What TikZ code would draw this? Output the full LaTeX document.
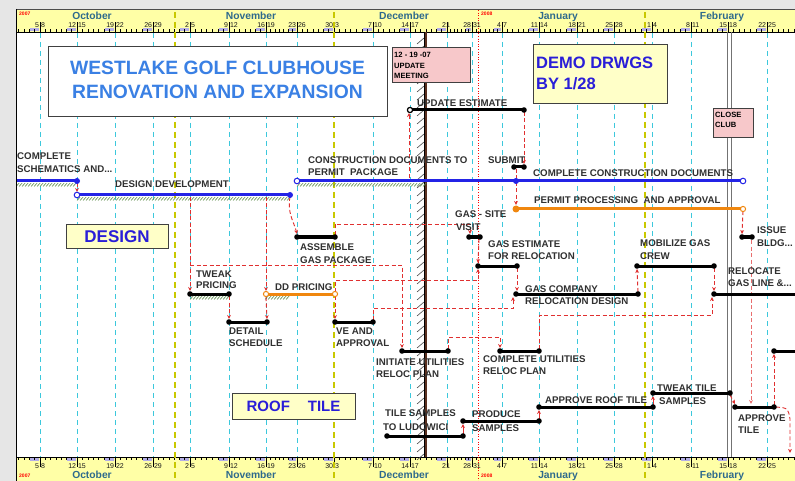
\documentclass[tikz,border=0pt]{standalone}
\usepackage{fontspec}
\setmainfont{Liberation Sans}
\usetikzlibrary{arrows.meta}
\definecolor{bggray}{HTML}{E6E6E6}
\definecolor{hdryellow}{HTML}{FFFFA6}
\definecolor{gridcyan}{HTML}{3CC8DC}
\definecolor{gridyellow}{HTML}{C8C800}
\definecolor{barblue}{HTML}{2323E6}
\definecolor{barorange}{HTML}{F0870F}
\definecolor{linkred}{HTML}{E03030}
\definecolor{hatchgreen}{HTML}{5E8C4A}
\definecolor{boxpink}{HTML}{F7C8CA}
\definecolor{boxyellow}{HTML}{FFFFC8}
\definecolor{titleblue}{HTML}{3A80E4}
\definecolor{demoblue}{HTML}{2A1ED8}
\definecolor{labelgray}{HTML}{303030}
\definecolor{monthblue}{HTML}{2E6A8C}
\definecolor{statusbrown}{HTML}{5A3020}
\definecolor{lav}{HTML}{B4AEE6}
\newcommand{\GHatch}[3]{\foreach \i in {0,...,#3} \draw[hatchgreen,line width=0.6pt] ({#1+3*\i},{#2+5.5}) -- ++(3.2,-3.5);}
\tikzset{
  bbar/.style={line width=3pt,black},
  bluebar/.style={line width=3pt,barblue},
  orbar/.style={line width=3pt,barorange},
  link/.style={draw=linkred,dash pattern=on 4pt off 2.5pt,line width=0.9pt,-{Stealth[length=4pt,width=3.8pt]}},
  slink/.style={draw=linkred,line width=0.9pt,-{Stealth[length=4pt,width=3.8pt]}},
  lbl/.style={font=\fontsize{9.7}{11}\selectfont\bfseries,text=labelgray,inner sep=0pt,anchor=base west},
  wk/.style={font=\fontsize{7}{8}\selectfont,text=black!90,inner sep=0pt},
  month/.style={font=\fontsize{10.3}{12}\selectfont\bfseries,text=monthblue,inner sep=0pt,anchor=base},
  yr/.style={font=\fontsize{5}{6}\selectfont\bfseries,text=red,inner sep=0pt,anchor=base west},
  boxtxt/.style={font=\fontsize{7.6}{8}\selectfont\bfseries,text=black,inner sep=0pt,anchor=base west},
  frame/.style={draw=black!75,line width=1pt},
  gridc/.style={gridcyan,line width=1pt,dash pattern=on 5pt off 4pt},
  gridy/.style={gridyellow,line width=2.2pt,dash pattern=on 6pt off 4pt},
}
\begin{document}
\begin{tikzpicture}[x=1pt,y=-1pt]
\useasboundingbox (0,0) rectangle (795,481);
\fill[bggray] (0,0) rectangle (795,481);
\fill[white] (16,9) rectangle (795,481);
\fill[hdryellow] (16,9) rectangle (795,32);
\fill[hdryellow] (16,457) rectangle (795,481);
\begin{scope}
\clip (16,9) rectangle (795,481);
% ticks
\foreach \a/\b in {2.5/40,40/77,77/115,115/153,153/190,190/229,229/266,266/297,297/334,334/373,373/410,410/447,447/472,472/502,502/539,539/577,577/614,614/652,652/691,691/728,728/767,767/805}{
  \fill[lav] ({\b-(\b-\a)*2/7+0.7},28.3) rectangle ({\b-0.7},31.4);
  \fill[lav] ({\b-(\b-\a)*2/7+0.7},457.6) rectangle ({\b-0.7},460.7);
  \foreach \i in {1,...,6}{
    \draw[black,line width=0.5pt] ({\a+(\b-\a)*\i/7},32) -- ++(0,-3);
    \draw[black,line width=0.5pt] ({\a+(\b-\a)*\i/7},457) -- ++(0,3);
  }
  \draw[black,line width=0.6pt] (\b,32) -- ++(0,-10);
  \draw[black,line width=0.6pt] (\b,457) -- ++(0,10);
}
\draw[black,line width=0.8pt] (16,32) -- (795,32);
\draw[black,line width=0.8pt] (16,457) -- (795,457);
\draw[black!70,line width=0.8pt] (16,9) -- (795,9);
% grid lines
\foreach \x in {40,77,115,153,190,229,266,297,373,410,447,472,502,539,577,614,652,691,767}
  \draw[gridc] (\x,33) -- (\x,457);
\foreach \x in {175,334,645}
  \draw[gridy] (\x,12) -- (\x,481);
\draw[red,line width=0.6pt,dotted] (478,10) -- (478,481);
% status line with hatching
\foreach \i in {0,...,52} \draw[black!70,line width=0.6pt] (417,{38+8*\i+6}) -- (424,{38+8*\i});
\draw[black,line width=1pt] (424,32) -- (424,457);
\draw[statusbrown,line width=1.3pt] (426,32) -- (426,457);
% close club line
\draw[black!55,line width=1pt] (727.5,32) -- (727.5,457);
\draw[black!55,line width=1pt] (731,32) -- (731,457);
% week numbers
\foreach \x/\l/\r in {40/5/8,77/12/15,115/19/22,153/26/29,190/2/5,229/9/12,266/16/19,297/23/26,334/30/3,373/7/10,410/14/17,472/28/31,502/4/7,539/11/14,577/18/21,614/25/28,652/1/4,691/8/11,728/15/18,767/22/25}{
  \node[wk,anchor=base east] (tl\x) at (\x-0.7,27.8) {\l};
  \node[wk,anchor=base west] (tr\x) at (\x+0.9,27.8) {\r};
  \node[wk,anchor=base east] (bl\x) at (\x-0.7,468) {\l};
  \node[wk,anchor=base west] (br\x) at (\x+0.9,468) {\r};
}
\node[wk,anchor=base] (t447) at (446,27.8) {21};
\node[wk,anchor=base] (b447) at (446,468) {21};
% months
\node[yr] (y07t) at (19,15.5) {2007};
\node[yr] (y08t) at (481,15.5) {2008};
\node[yr] (y07b) at (19,477) {2007};
\node[yr] (y08b) at (481,477) {2008};
\foreach \x/\m in {92/October,251/November,404/December,558/January,722/February}{
  \node[month] (mt\x) at (\x,20) {\m};
  \node[month] (mb\x) at (\x,478) {\m};
}
% boxes
\node[frame,fill=white,minimum width=339pt,minimum height=70pt,inner sep=0pt] (titlebox) at (217.5,82) {};
\node[font=\fontsize{19.3}{22}\selectfont\bfseries,text=titleblue,inner sep=0pt,anchor=base] (title1) at (217.5,75) {WESTLAKE GOLF CLUBHOUSE};
\node[font=\fontsize{19.3}{22}\selectfont\bfseries,text=titleblue,inner sep=0pt,anchor=base] (title2) at (217.5,99) {RENOVATION AND EXPANSION};
\node[frame,fill=boxpink,minimum width=78pt,minimum height=35pt,inner sep=0pt] (meetbox) at (431,65.5) {};
\node[boxtxt] (meet1) at (394,58) {12 - 19 -07};
\node[boxtxt] (meet2) at (394,68.5) {UPDATE};
\node[boxtxt] (meet3) at (394,79) {MEETING};
\node[frame,fill=boxyellow,minimum width=134pt,minimum height=59pt,inner sep=0pt] (demobox) at (600,74.5) {};
\node[font=\fontsize{16.5}{18}\selectfont\bfseries,text=demoblue,inner sep=0pt,anchor=base west] (demo1) at (536,69) {DEMO DRWGS};
\node[font=\fontsize{16.5}{18}\selectfont\bfseries,text=demoblue,inner sep=0pt,anchor=base west] (demo2) at (536,90) {BY 1/28};
\node[frame,fill=boxpink,minimum width=40pt,minimum height=29pt,inner sep=0pt] (closebox) at (733,123.5) {};
\node[boxtxt] (close1) at (715,118) {CLOSE};
\node[boxtxt] (close2) at (715,128) {CLUB};
\node[frame,fill=boxyellow,minimum width=102pt,minimum height=23pt,inner sep=0pt,font=\fontsize{17}{18}\selectfont\bfseries,text=demoblue] (designbox) at (117,236.5) {DESIGN};
\node[frame,fill=boxyellow,minimum width=123pt,minimum height=26pt,inner sep=0pt,font=\fontsize{15}{18}\selectfont\bfseries,text=demoblue] (roofbox) at (293.5,406) {ROOF\hspace{1.2em}TILE};
% coordinates of bars
\coordinate (csS) at (16,181);  \coordinate (csE) at (77,181);
\coordinate (ddS) at (77,195);  \coordinate (ddE) at (290,195);
\coordinate (cdS) at (297,181); \coordinate (cdE) at (516,181);
\coordinate (ccS) at (516,181); \coordinate (ccE) at (743,181);
\coordinate (ppS) at (516,209); \coordinate (ppE) at (743,209);
\coordinate (dpS) at (266,294); \coordinate (dpE) at (335,294);
\coordinate (ueS) at (410,110); \coordinate (ueE) at (524,110);
\coordinate (sbS) at (514,167); \coordinate (sbE) at (524,167);
\coordinate (ibS) at (742,237); \coordinate (ibE) at (752,237);
\coordinate (gsS) at (469,237); \coordinate (gsE) at (480,237);
\coordinate (agS) at (297,237); \coordinate (agE) at (335,237);
\coordinate (geS) at (478,266); \coordinate (geE) at (517,266);
\coordinate (gcS) at (516,294); \coordinate (gcE) at (638,294);
\coordinate (mgS) at (637,266); \coordinate (mgE) at (714,266);
\coordinate (rgS) at (714,294); \coordinate (rgE) at (800,294);
\coordinate (twS) at (190,294); \coordinate (twE) at (229,294);
\coordinate (dsS) at (229,322); \coordinate (dsE) at (267,322);
\coordinate (veS) at (335,322); \coordinate (veE) at (373,322);
\coordinate (iuS) at (402,351); \coordinate (iuE) at (448,351);
\coordinate (cuS) at (500,351); \coordinate (cuE) at (539,351);
\coordinate (xS) at (774,351);  \coordinate (xE) at (800,351);
\coordinate (tsS) at (387,436); \coordinate (tsE) at (463,436);
\coordinate (psS) at (463,421); \coordinate (psE) at (539,421);
\coordinate (arS) at (539,407); \coordinate (arE) at (653,407);
\coordinate (ttS) at (653,393); \coordinate (ttE) at (730,393);
\coordinate (atS) at (735,407); \coordinate (atE) at (774,407);
% progress hatching
\GHatch{16}{181}{19}
\GHatch{77}{195}{70}
\GHatch{297}{181}{42}
\GHatch{190}{294}{12}
\GHatch{265}{294}{7}
% links
\coordinate (dd190) at (190,195); \coordinate (dd266) at (266,195);
\coordinate (j1) at (190,265);
\coordinate (k8) at (335,280); \coordinate (k9) at (335,224);
\coordinate (k12) at (373,308); \coordinate (k13) at (448,337);
\coordinate (k14) at (539,315); \coordinate (k17) at (409,178);
\coordinate (k21) at (751,404); \coordinate (k27) at (790,419); \coordinate (k27b) at (790,453);
\draw[link] ([yshift=-2pt]csE) -- ([yshift=3pt]ddS);
\draw[link] ([yshift=-2pt]dd190) -- ([yshift=3pt]twS);
\draw[link] (j1) -| ([yshift=3pt]iuS);
\draw[link] ([yshift=-2pt]dd266) -- ([yshift=3pt]dpS);
\draw[link] ([yshift=-2pt]ddE) .. controls +(-3,16) and +(-3,-12) .. ([yshift=3pt]agS);
\draw[link] ([yshift=-2pt]twE) -- ([yshift=3pt]dsS);
\draw[link] ([yshift=-3pt]dpS) -- ([yshift=3pt]dsE);
\draw[link] ([yshift=-2pt]dpE) -- ([yshift=3pt]veS);
\draw[link] ([yshift=2pt]dpE) -- (k8) -| ([yshift=-3pt]geS);
\draw[link] ([yshift=2pt]agE) -- (k9) -| ([xshift=1pt,yshift=3pt]gsS);
\draw[link] ([xshift=-1pt,yshift=-2pt]gsE) -- ([yshift=3pt]geS);
\draw[link] ([yshift=-2pt]geE) -- ([xshift=1pt,yshift=3pt]gcS);
\draw[link] ([yshift=2pt]veE) -- (k12) -| ([xshift=-3pt,yshift=-3pt]gcS);
\draw[link] ([yshift=2pt]iuE) -- (k13) -| ([yshift=3pt]cuS);
\draw[link] ([yshift=2pt]cuE) -- (k14) -| ([xshift=-2pt,yshift=-3pt]rgS);
\draw[link] ([yshift=2pt]gcE) -- ([yshift=-3pt]mgS);
\draw[link] ([yshift=-2pt]mgE) -- ([yshift=3pt]rgS);
\draw[link] (k17) -- ([xshift=-1pt,yshift=-3pt]ueS);
\draw[link] ([yshift=-2pt]ueE) -- ([yshift=3pt]sbE);
\draw[link] ([xshift=2pt,yshift=-2pt]sbS) -- ([yshift=4pt]ppS);
\draw[link] ([yshift=-2pt]ppE) -- ([yshift=3pt]ibS);
\draw[link,draw=linkred!70] ([xshift=-1pt,yshift=-3pt]ibE) -- (k21);
\draw[slink] ([yshift=2pt]tsE) -- ([yshift=-3pt]psS);
\draw[slink] ([yshift=2pt]psE) -- ([yshift=-3pt]arS);
\draw[slink] ([yshift=2pt]arE) -- ([yshift=-3pt]ttS);
\draw[link] ([yshift=-2pt]ttE) -- ([yshift=3pt]atS);
\draw[link] ([yshift=2pt]atE) -- ([yshift=-3pt]xS);
\draw[link] ([xshift=2pt]atE) .. controls (788,408) .. (k27) -- (k27b);
% bars
\draw[bluebar] (csS) -- (csE);
\draw[bluebar] (ddS) -- (ddE);
\draw[bluebar] (cdS) -- (cdE);
\draw[bluebar] (ccS) -- (ccE);
\draw[orbar] (ppS) -- (ppE);
\draw[orbar] (dpS) -- (dpE);
\foreach \s/\e in {ueS/ueE,sbS/sbE,ibS/ibE,gsS/gsE,agS/agE,geS/geE,gcS/gcE,mgS/mgE,rgS/rgE,twS/twE,dsS/dsE,veS/veE,iuS/iuE,cuS/cuE,xS/xE,tsS/tsE,psS/psE,arS/arE,ttS/ttE,atS/atE}{
  \draw[bbar] (\s) -- (\e);
  \fill[black] (\s) circle (2.8pt);
  \fill[black] (\e) circle (2.8pt);
}
\filldraw[draw=barblue,fill=white,line width=1pt] (ddS) circle (2.8pt);
\filldraw[draw=barblue,fill=white,line width=1pt] (cdS) circle (2.8pt);
\filldraw[draw=barblue,fill=white,line width=1pt] (ccE) circle (2.8pt);
\fill[barblue] (csE) circle (3pt);
\fill[barblue] (ddE) circle (3pt);
\fill[barblue] (ccS) circle (3pt);
\fill[barorange] (ppS) circle (3.5pt);
\filldraw[draw=barorange,fill=white,line width=1pt] (ppE) circle (2.6pt);
\filldraw[draw=barorange,fill=white,line width=1pt] (dpS) circle (2.6pt);
\filldraw[draw=barorange,fill=white,line width=1pt] (dpE) circle (2.6pt);
\filldraw[draw=black,fill=white,line width=1.2pt] (ueS) circle (2.6pt);
% labels
\node[lbl] (l1a) at (17,159.5) {COMPLETE};
\node[lbl] (l1b) at (17,172.5) {SCHEMATICS AND...};
\node[lbl] (l2) at (115,187.5) {DESIGN DEVELOPMENT};
\node[lbl] (l3a) at (308,163.5) {CONSTRUCTION DOCUMENTS TO};
\node[lbl] (l3b) at (308,175.5) {PERMIT\ \ PACKAGE};
\node[lbl] (l4) at (417,106.5) {UPDATE ESTIMATE};
\node[lbl] (l5) at (488,163.5) {SUBMIT};
\node[lbl] (l6) at (533,176.5) {COMPLETE CONSTRUCTION DOCUMENTS};
\node[lbl] (l7) at (534,203.5) {PERMIT PROCESSING\ \ AND APPROVAL};
\node[lbl] (l8a) at (757,233.5) {ISSUE};
\node[lbl] (l8b) at (757,246.5) {BLDG...};
\node[lbl] (l9a) at (455,217.5) {GAS - SITE};
\node[lbl] (l9b) at (456,230.5) {VISIT};
\node[lbl] (l10a) at (300,250.5) {ASSEMBLE};
\node[lbl] (l10b) at (300,263.5) {GAS PACKAGE};
\node[lbl] (l11a) at (488,247.5) {GAS ESTIMATE};
\node[lbl] (l11b) at (488,259.5) {FOR RELOCATION};
\node[lbl] (l12a) at (640,246.5) {MOBILIZE GAS};
\node[lbl] (l12b) at (640,259.5) {CREW};
\node[lbl] (l13a) at (728,274.5) {RELOCATE};
\node[lbl] (l13b) at (728,286.5) {GAS LINE \&...};
\node[lbl] (l14a) at (196,277.5) {TWEAK};
\node[lbl] (l14b) at (196,288.5) {PRICING};
\node[lbl] (l15) at (275,290.5) {DD PRICING};
\node[lbl] (l16a) at (525,292.5) {GAS COMPANY};
\node[lbl] (l16b) at (525,304.5) {RELOCATION DESIGN};
\node[lbl] (l17a) at (229,334.5) {DETAIL};
\node[lbl] (l17b) at (229,346.5) {SCHEDULE};
\node[lbl] (l18a) at (336,334.5) {VE AND};
\node[lbl] (l18b) at (336,346.5) {APPROVAL};
\node[lbl] (l19a) at (376,365.5) {INITIATE UTILITIES};
\node[lbl] (l19b) at (376,377.5) {RELOC PLAN};
\node[lbl] (l20a) at (483,362.5) {COMPLETE UTILITIES};
\node[lbl] (l20b) at (483,374.5) {RELOC PLAN};
\node[lbl] (l21a) at (385,416.5) {TILE SAMPLES};
\node[lbl] (l21b) at (383,430.5) {TO LUDOWICI};
\node[lbl] (l22a) at (472,417.5) {PRODUCE};
\node[lbl] (l22b) at (472,431.5) {SAMPLES};
\node[lbl] (l23) at (545,403.5) {APPROVE ROOF TILE};
\node[lbl] (l24a) at (657,391.5) {TWEAK TILE};
\node[lbl] (l24b) at (659,404.5) {SAMPLES};
\node[lbl] (l25a) at (738,421.5) {APPROVE};
\node[lbl] (l25b) at (738,433.5) {TILE};
\end{scope}
\draw[black,line width=1pt] (16,9) -- (16,481);
\end{tikzpicture}
\end{document}
